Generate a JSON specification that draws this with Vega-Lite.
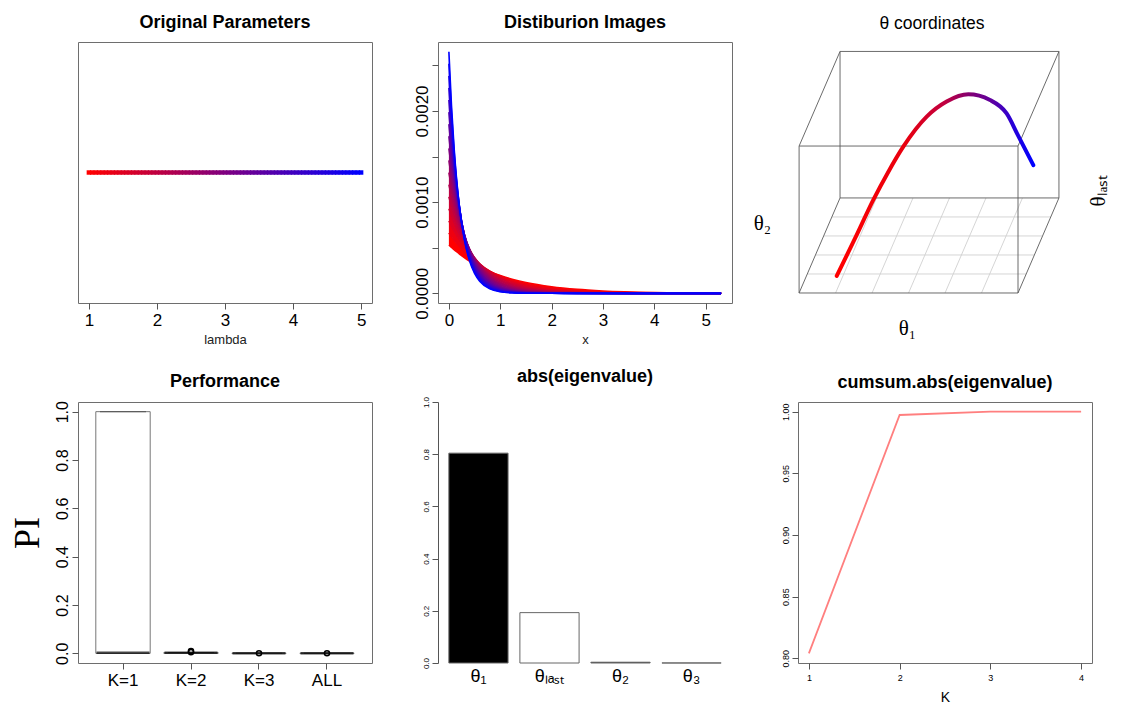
{
"$schema": "https://vega.github.io/schema/vega-lite/v6.json",
"background": "white",
"padding": {"left": 8, "top": 13, "right": 0, "bottom": 0},
"config": {
  "font": "Liberation Sans",
  "view": {"stroke": "#6e6e6e", "strokeWidth": 1},
  "axis": {"grid": false, "domain": false, "tickColor": "#555", "tickSize": 6, "labelColor": "#000", "labelFontSize": 17, "labelPadding": 3, "titleFontWeight": "normal", "titleFontSize": 13, "titleColor": "#222", "labelFlush": false, "labelOverlap": false},
  "title": {"fontSize": 18, "fontWeight": "bold", "offset": 10, "color": "#000"}
},
"columns": 3,
"spacing": {"row": 99, "column": 66},
"bounds": "flush",
"concat": [
  {
   "width": 294, "height": 261,
   "title": "Original Parameters",
   "data": {"values": [
    {"lambda":1},{"lambda":1.05},{"lambda":1.1},{"lambda":1.15},{"lambda":1.2},{"lambda":1.25},{"lambda":1.3},{"lambda":1.35},{"lambda":1.4},{"lambda":1.45},
    {"lambda":1.5},{"lambda":1.55},{"lambda":1.6},{"lambda":1.65},{"lambda":1.7},{"lambda":1.75},{"lambda":1.8},{"lambda":1.85},{"lambda":1.9},{"lambda":1.95},
    {"lambda":2},{"lambda":2.05},{"lambda":2.1},{"lambda":2.15},{"lambda":2.2},{"lambda":2.25},{"lambda":2.3},{"lambda":2.35},{"lambda":2.4},{"lambda":2.45},
    {"lambda":2.5},{"lambda":2.55},{"lambda":2.6},{"lambda":2.65},{"lambda":2.7},{"lambda":2.75},{"lambda":2.8},{"lambda":2.85},{"lambda":2.9},{"lambda":2.95},
    {"lambda":3},{"lambda":3.05},{"lambda":3.1},{"lambda":3.15},{"lambda":3.2},{"lambda":3.25},{"lambda":3.3},{"lambda":3.35},{"lambda":3.4},{"lambda":3.45},
    {"lambda":3.5},{"lambda":3.55},{"lambda":3.6},{"lambda":3.65},{"lambda":3.7},{"lambda":3.75},{"lambda":3.8},{"lambda":3.85},{"lambda":3.9},{"lambda":3.95},
    {"lambda":4},{"lambda":4.05},{"lambda":4.1},{"lambda":4.15},{"lambda":4.2},{"lambda":4.25},{"lambda":4.3},{"lambda":4.35},{"lambda":4.4},{"lambda":4.45},
    {"lambda":4.5},{"lambda":4.55},{"lambda":4.6},{"lambda":4.65},{"lambda":4.7},{"lambda":4.75},{"lambda":4.8},{"lambda":4.85},{"lambda":4.9},{"lambda":4.95},{"lambda":5}
   ]},
   "mark": {"type": "point", "shape": "square", "filled": true, "size": 20, "opacity": 1},
   "encoding": {
    "x": {"field": "lambda", "type": "quantitative", "scale": {"domain": [0.84, 5.16], "nice": false, "zero": false},
          "axis": {"values": [1,2,3,4,5], "format": "d", "labelAngle": 0, "title": "lambda", "titlePadding": 5}},
    "y": {"datum": 0, "type": "quantitative", "scale": {"domain": [-1, 1]}, "axis": null},
    "color": {"field": "lambda", "type": "quantitative", "scale": {"domain": [1, 5], "range": ["#ff0000", "#0000ff"], "interpolate": "rgb"}, "legend": null}
   }
  },
  {
   "width": 294, "height": 261,
   "title": "Distiburion Images",
   "data": {"values": [
{"l":1,"x":0,"d":0.000530},{"l":1,"x":0.05,"d":0.000504},{"l":1,"x":0.1,"d":0.000480},{"l":1,"x":0.15,"d":0.000456},{"l":1,"x":0.2,"d":0.000434},{"l":1,"x":0.3,"d":0.000393},{"l":1,"x":0.4,"d":0.000355},{"l":1,"x":0.5,"d":0.000321},{"l":1,"x":0.6,"d":0.000291},{"l":1,"x":0.8,"d":0.000238},{"l":1,"x":1,"d":0.000195},{"l":1,"x":1.25,"d":0.000152},{"l":1,"x":1.5,"d":0.000118},{"l":1,"x":2,"d":0.0000717},{"l":1,"x":2.5,"d":0.0000435},{"l":1,"x":3,"d":0.0000264},{"l":1,"x":4,"d":0.0000097},{"l":1,"x":5.3,"d":0.0000027},
{"l":1.25,"x":0,"d":0.0006625},{"l":1.25,"x":0.05,"d":0.000622},{"l":1.25,"x":0.1,"d":0.000585},{"l":1.25,"x":0.15,"d":0.000549},{"l":1.25,"x":0.2,"d":0.000516},{"l":1.25,"x":0.3,"d":0.000455},{"l":1.25,"x":0.4,"d":0.000402},{"l":1.25,"x":0.5,"d":0.000355},{"l":1.25,"x":0.6,"d":0.000313},{"l":1.25,"x":0.8,"d":0.000244},{"l":1.25,"x":1,"d":0.000190},{"l":1.25,"x":1.25,"d":0.000139},{"l":1.25,"x":1.5,"d":0.000102},{"l":1.25,"x":2,"d":0.0000544},{"l":1.25,"x":2.5,"d":0.0000291},{"l":1.25,"x":3,"d":0.0000156},{"l":1.25,"x":4,"d":0.0000045},{"l":1.25,"x":5.3,"d":0.0000009},
{"l":1.5,"x":0,"d":0.000795},{"l":1.5,"x":0.05,"d":0.000738},{"l":1.5,"x":0.1,"d":0.000684},{"l":1.5,"x":0.15,"d":0.000635},{"l":1.5,"x":0.2,"d":0.000589},{"l":1.5,"x":0.3,"d":0.000507},{"l":1.5,"x":0.4,"d":0.000436},{"l":1.5,"x":0.5,"d":0.000376},{"l":1.5,"x":0.6,"d":0.000323},{"l":1.5,"x":0.8,"d":0.000239},{"l":1.5,"x":1,"d":0.000177},{"l":1.5,"x":1.25,"d":0.000122},{"l":1.5,"x":1.5,"d":0.0000838},{"l":1.5,"x":2,"d":0.0000396},{"l":1.5,"x":2.5,"d":0.0000187},{"l":1.5,"x":3,"d":0.0000088},{"l":1.5,"x":4,"d":0.0000020},{"l":1.5,"x":5.3,"d":0.0000003},
{"l":1.75,"x":0,"d":0.0009275},{"l":1.75,"x":0.05,"d":0.000850},{"l":1.75,"x":0.1,"d":0.000779},{"l":1.75,"x":0.15,"d":0.000713},{"l":1.75,"x":0.2,"d":0.000654},{"l":1.75,"x":0.3,"d":0.000549},{"l":1.75,"x":0.4,"d":0.000461},{"l":1.75,"x":0.5,"d":0.000387},{"l":1.75,"x":0.6,"d":0.000325},{"l":1.75,"x":0.8,"d":0.000229},{"l":1.75,"x":1,"d":0.000161},{"l":1.75,"x":1.25,"d":0.000104},{"l":1.75,"x":1.5,"d":0.0000672},{"l":1.75,"x":2,"d":0.0000280},{"l":1.75,"x":2.5,"d":0.0000117},{"l":1.75,"x":3,"d":0.0000049},{"l":1.75,"x":4,"d":0.0000008},{"l":1.75,"x":5.3,"d":0.0000001},
{"l":2,"x":0,"d":0.00106},{"l":2,"x":0.05,"d":0.000959},{"l":2,"x":0.1,"d":0.000868},{"l":2,"x":0.15,"d":0.000785},{"l":2,"x":0.2,"d":0.000711},{"l":2,"x":0.3,"d":0.000582},{"l":2,"x":0.4,"d":0.000476},{"l":2,"x":0.5,"d":0.000390},{"l":2,"x":0.6,"d":0.000319},{"l":2,"x":0.8,"d":0.000214},{"l":2,"x":1,"d":0.000143},{"l":2,"x":1.25,"d":0.0000870},{"l":2,"x":1.5,"d":0.0000528},{"l":2,"x":2,"d":0.0000194},{"l":2,"x":2.5,"d":0.0000071},{"l":2,"x":3,"d":0.0000026},{"l":2,"x":4,"d":0.0000004},{"l":2,"x":5.3,"d":0},
{"l":2.25,"x":0,"d":0.0011925},{"l":2.25,"x":0.05,"d":0.001066},{"l":2.25,"x":0.1,"d":0.000952},{"l":2.25,"x":0.15,"d":0.000851},{"l":2.25,"x":0.2,"d":0.000760},{"l":2.25,"x":0.3,"d":0.000607},{"l":2.25,"x":0.4,"d":0.000485},{"l":2.25,"x":0.5,"d":0.000387},{"l":2.25,"x":0.6,"d":0.000309},{"l":2.25,"x":0.8,"d":0.000197},{"l":2.25,"x":1,"d":0.000126},{"l":2.25,"x":1.25,"d":0.0000717},{"l":2.25,"x":1.5,"d":0.0000408},{"l":2.25,"x":2,"d":0.0000132},{"l":2.25,"x":2.5,"d":0.0000043},{"l":2.25,"x":3,"d":0.0000014},{"l":2.25,"x":4,"d":0.0000001},{"l":2.25,"x":5.3,"d":0},
{"l":2.5,"x":0,"d":0.001325},{"l":2.5,"x":0.05,"d":0.001169},{"l":2.5,"x":0.1,"d":0.001032},{"l":2.5,"x":0.15,"d":0.000911},{"l":2.5,"x":0.2,"d":0.000804},{"l":2.5,"x":0.3,"d":0.000626},{"l":2.5,"x":0.4,"d":0.000487},{"l":2.5,"x":0.5,"d":0.000380},{"l":2.5,"x":0.6,"d":0.000296},{"l":2.5,"x":0.8,"d":0.000179},{"l":2.5,"x":1,"d":0.000109},{"l":2.5,"x":1.25,"d":0.0000582},{"l":2.5,"x":1.5,"d":0.0000311},{"l":2.5,"x":2,"d":0.0000089},{"l":2.5,"x":2.5,"d":0.0000026},{"l":2.5,"x":3,"d":0.0000007},{"l":2.5,"x":4,"d":0},{"l":2.5,"x":5.3,"d":0},
{"l":2.75,"x":0,"d":0.0014575},{"l":2.75,"x":0.05,"d":0.001270},{"l":2.75,"x":0.1,"d":0.001107},{"l":2.75,"x":0.15,"d":0.000965},{"l":2.75,"x":0.2,"d":0.000841},{"l":2.75,"x":0.3,"d":0.000639},{"l":2.75,"x":0.4,"d":0.000485},{"l":2.75,"x":0.5,"d":0.000368},{"l":2.75,"x":0.6,"d":0.000280},{"l":2.75,"x":0.8,"d":0.000161},{"l":2.75,"x":1,"d":0.0000931},{"l":2.75,"x":1.25,"d":0.0000468},{"l":2.75,"x":1.5,"d":0.0000236},{"l":2.75,"x":2,"d":0.0000060},{"l":2.75,"x":2.5,"d":0.0000015},{"l":2.75,"x":3,"d":0.0000004},{"l":2.75,"x":4,"d":0},{"l":2.75,"x":5.3,"d":0},
{"l":3,"x":0,"d":0.00159},{"l":3,"x":0.05,"d":0.001369},{"l":3,"x":0.1,"d":0.001178},{"l":3,"x":0.15,"d":0.001014},{"l":3,"x":0.2,"d":0.000873},{"l":3,"x":0.3,"d":0.000646},{"l":3,"x":0.4,"d":0.000479},{"l":3,"x":0.5,"d":0.000355},{"l":3,"x":0.6,"d":0.000263},{"l":3,"x":0.8,"d":0.000144},{"l":3,"x":1,"d":0.0000792},{"l":3,"x":1.25,"d":0.0000374},{"l":3,"x":1.5,"d":0.0000176},{"l":3,"x":2,"d":0.0000039},{"l":3,"x":2.5,"d":0.0000009},{"l":3,"x":3,"d":0.0000002},{"l":3,"x":4,"d":0},{"l":3,"x":5.3,"d":0},
{"l":3.25,"x":0,"d":0.0017225},{"l":3.25,"x":0.05,"d":0.001464},{"l":3.25,"x":0.1,"d":0.001245},{"l":3.25,"x":0.15,"d":0.001058},{"l":3.25,"x":0.2,"d":0.000899},{"l":3.25,"x":0.3,"d":0.000650},{"l":3.25,"x":0.4,"d":0.000469},{"l":3.25,"x":0.5,"d":0.000339},{"l":3.25,"x":0.6,"d":0.000245},{"l":3.25,"x":0.8,"d":0.000128},{"l":3.25,"x":1,"d":0.0000668},{"l":3.25,"x":1.25,"d":0.0000296},{"l":3.25,"x":1.5,"d":0.0000131},{"l":3.25,"x":2,"d":0.0000026},{"l":3.25,"x":2.5,"d":0.0000005},{"l":3.25,"x":3,"d":0.0000001},{"l":3.25,"x":4,"d":0},{"l":3.25,"x":5.3,"d":0},
{"l":3.5,"x":0,"d":0.001855},{"l":3.5,"x":0.05,"d":0.001557},{"l":3.5,"x":0.1,"d":0.001307},{"l":3.5,"x":0.15,"d":0.001097},{"l":3.5,"x":0.2,"d":0.000921},{"l":3.5,"x":0.3,"d":0.000649},{"l":3.5,"x":0.4,"d":0.000457},{"l":3.5,"x":0.5,"d":0.000322},{"l":3.5,"x":0.6,"d":0.000227},{"l":3.5,"x":0.8,"d":0.000113},{"l":3.5,"x":1,"d":0.0000560},{"l":3.5,"x":1.25,"d":0.0000234},{"l":3.5,"x":1.5,"d":0.0000097},{"l":3.5,"x":2,"d":0.0000017},{"l":3.5,"x":2.5,"d":0.0000003},{"l":3.5,"x":3,"d":0},{"l":3.5,"x":4,"d":0},{"l":3.5,"x":5.3,"d":0},
{"l":3.75,"x":0,"d":0.0019875},{"l":3.75,"x":0.05,"d":0.001648},{"l":3.75,"x":0.1,"d":0.001366},{"l":3.75,"x":0.15,"d":0.001132},{"l":3.75,"x":0.2,"d":0.000939},{"l":3.75,"x":0.3,"d":0.000645},{"l":3.75,"x":0.4,"d":0.000443},{"l":3.75,"x":0.5,"d":0.000305},{"l":3.75,"x":0.6,"d":0.000209},{"l":3.75,"x":0.8,"d":0.0000990},{"l":3.75,"x":1,"d":0.0000467},{"l":3.75,"x":1.25,"d":0.0000183},{"l":3.75,"x":1.5,"d":0.0000072},{"l":3.75,"x":2,"d":0.0000011},{"l":3.75,"x":2.5,"d":0.0000002},{"l":3.75,"x":3,"d":0},{"l":3.75,"x":4,"d":0},{"l":3.75,"x":5.3,"d":0},
{"l":4,"x":0,"d":0.00212},{"l":4,"x":0.05,"d":0.001736},{"l":4,"x":0.1,"d":0.001421},{"l":4,"x":0.15,"d":0.001163},{"l":4,"x":0.2,"d":0.000953},{"l":4,"x":0.3,"d":0.000639},{"l":4,"x":0.4,"d":0.000428},{"l":4,"x":0.5,"d":0.000287},{"l":4,"x":0.6,"d":0.000192},{"l":4,"x":0.8,"d":0.0000865},{"l":4,"x":1,"d":0.0000388},{"l":4,"x":1.25,"d":0.0000143},{"l":4,"x":1.5,"d":0.0000053},{"l":4,"x":2,"d":0.0000007},{"l":4,"x":2.5,"d":0},{"l":4,"x":3,"d":0},{"l":4,"x":4,"d":0},{"l":4,"x":5.3,"d":0},
{"l":4.25,"x":0,"d":0.0022525},{"l":4.25,"x":0.05,"d":0.001821},{"l":4.25,"x":0.1,"d":0.001473},{"l":4.25,"x":0.15,"d":0.001191},{"l":4.25,"x":0.2,"d":0.000963},{"l":4.25,"x":0.3,"d":0.000629},{"l":4.25,"x":0.4,"d":0.000412},{"l":4.25,"x":0.5,"d":0.000269},{"l":4.25,"x":0.6,"d":0.000176},{"l":4.25,"x":0.8,"d":0.0000752},{"l":4.25,"x":1,"d":0.0000322},{"l":4.25,"x":1.25,"d":0.0000111},{"l":4.25,"x":1.5,"d":0.0000038},{"l":4.25,"x":2,"d":0.0000005},{"l":4.25,"x":2.5,"d":0},{"l":4.25,"x":3,"d":0},{"l":4.25,"x":4,"d":0},{"l":4.25,"x":5.3,"d":0},
{"l":4.5,"x":0,"d":0.002385},{"l":4.5,"x":0.05,"d":0.001904},{"l":4.5,"x":0.1,"d":0.001521},{"l":4.5,"x":0.15,"d":0.001214},{"l":4.5,"x":0.2,"d":0.000970},{"l":4.5,"x":0.3,"d":0.000618},{"l":4.5,"x":0.4,"d":0.000394},{"l":4.5,"x":0.5,"d":0.000251},{"l":4.5,"x":0.6,"d":0.000160},{"l":4.5,"x":0.8,"d":0.0000651},{"l":4.5,"x":1,"d":0.0000265},{"l":4.5,"x":1.25,"d":0.0000086},{"l":4.5,"x":1.5,"d":0.0000028},{"l":4.5,"x":2,"d":0.0000003},{"l":4.5,"x":2.5,"d":0},{"l":4.5,"x":3,"d":0},{"l":4.5,"x":4,"d":0},{"l":4.5,"x":5.3,"d":0},
{"l":4.75,"x":0,"d":0.0025175},{"l":4.75,"x":0.05,"d":0.001985},{"l":4.75,"x":0.1,"d":0.001566},{"l":4.75,"x":0.15,"d":0.001235},{"l":4.75,"x":0.2,"d":0.000974},{"l":4.75,"x":0.3,"d":0.000605},{"l":4.75,"x":0.4,"d":0.000377},{"l":4.75,"x":0.5,"d":0.000234},{"l":4.75,"x":0.6,"d":0.000146},{"l":4.75,"x":0.8,"d":0.0000564},{"l":4.75,"x":1,"d":0.0000218},{"l":4.75,"x":1.25,"d":0.0000066},{"l":4.75,"x":1.5,"d":0.0000020},{"l":4.75,"x":2,"d":0.0000002},{"l":4.75,"x":2.5,"d":0},{"l":4.75,"x":3,"d":0},{"l":4.75,"x":4,"d":0},{"l":4.75,"x":5.3,"d":0},
{"l":5,"x":0,"d":0.00265},{"l":5,"x":0.05,"d":0.002064},{"l":5,"x":0.1,"d":0.001607},{"l":5,"x":0.15,"d":0.001252},{"l":5,"x":0.2,"d":0.000975},{"l":5,"x":0.3,"d":0.000591},{"l":5,"x":0.4,"d":0.000359},{"l":5,"x":0.5,"d":0.000218},{"l":5,"x":0.6,"d":0.000132},{"l":5,"x":0.8,"d":0.0000485},{"l":5,"x":1,"d":0.0000179},{"l":5,"x":1.25,"d":0.0000051},{"l":5,"x":1.5,"d":0.0000015},{"l":5,"x":2,"d":0.0000001},{"l":5,"x":2.5,"d":0},{"l":5,"x":3,"d":0},{"l":5,"x":4,"d":0},{"l":5,"x":5.3,"d":0}
   ]},
   "encoding": {
    "x": {"field": "x", "type": "quantitative", "scale": {"domain": [-0.212, 5.512], "nice": false, "zero": false},
          "axis": {"values": [0,1,2,3,4,5], "format": "d", "labelAngle": 0, "title": "x", "titlePadding": 5}},
    "y": {"field": "d", "type": "quantitative", "scale": {"domain": [-0.000106, 0.002756], "nice": false, "zero": false},
          "axis": {"values": [0, 0.0005, 0.001, 0.0015, 0.002, 0.0025], "labelExpr": "(round(datum.value*1000*2) % 2 == 0) ? format(datum.value, '.4f') : ''", "labelAngle": -90, "labelAlign": "center", "labelBaseline": "bottom", "labelPadding": 1, "title": null}},
    "color": {"field": "l", "type": "quantitative", "scale": {"domain": [1, 5], "range": ["#ff0000", "#0000ff"], "interpolate": "rgb"}, "legend": null}
   },
   "layer": [
    {
     "transform": [
      {"window": [{"op": "lead", "field": "d", "as": "d2"}], "groupby": ["x"], "sort": [{"field": "l", "order": "ascending"}]},
      {"filter": "datum.d2 != null"}
     ],
     "mark": {"type": "area", "interpolate": "monotone", "opacity": 1},
     "encoding": {"y2": {"field": "d2"}}
    },
    {
     "mark": {"type": "line", "strokeWidth": 1.6, "interpolate": "monotone"}
    }
   ]
  },
  {
   "width": 294, "height": 261,
   "title": {"text": "θ coordinates", "fontWeight": "normal", "fontSize": 17.5, "dx": -13},
   "view": {"stroke": null},
   "layer": [
    {
     "data": {"values": [
      {"kind":"grid","u1":0.1667,"v1":0,"u2":0.3537,"v2":0.434},
      {"kind":"grid","u1":0.3333,"v1":0,"u2":0.5203,"v2":0.434},
      {"kind":"grid","u1":0.5,"v1":0,"u2":0.687,"v2":0.434},
      {"kind":"grid","u1":0.6667,"v1":0,"u2":0.8537,"v2":0.434},
      {"kind":"grid","u1":0.8333,"v1":0,"u2":1.0203,"v2":0.434},
      {"kind":"grid","u1":0.0374,"v1":0.0868,"u2":1.0374,"v2":0.0868},
      {"kind":"grid","u1":0.0748,"v1":0.1736,"u2":1.0748,"v2":0.1736},
      {"kind":"grid","u1":0.1122,"v1":0.2604,"u2":1.1122,"v2":0.2604},
      {"kind":"grid","u1":0.1496,"v1":0.3472,"u2":1.1496,"v2":0.3472},
      {"kind":"box","u1":0,"v1":0,"u2":1,"v2":0},
      {"kind":"box","u1":0,"v1":0.671,"u2":1,"v2":0.671},
      {"kind":"box","u1":0,"v1":0,"u2":0,"v2":0.671},
      {"kind":"box","u1":1,"v1":0,"u2":1,"v2":0.671},
      {"kind":"box","u1":0.187,"v1":0.434,"u2":1.187,"v2":0.434},
      {"kind":"box","u1":0.187,"v1":1.103,"u2":1.187,"v2":1.103},
      {"kind":"box","u1":0.187,"v1":0.434,"u2":0.187,"v2":1.103},
      {"kind":"box","u1":1.187,"v1":0.434,"u2":1.187,"v2":1.103},
      {"kind":"box","u1":0,"v1":0,"u2":0.187,"v2":0.434},
      {"kind":"box","u1":1,"v1":0,"u2":1.187,"v2":0.434},
      {"kind":"box","u1":0,"v1":0.671,"u2":0.187,"v2":1.103},
      {"kind":"box","u1":1,"v1":0.671,"u2":1.187,"v2":1.103}
     ]},
     "mark": {"type": "rule", "strokeWidth": 0.9},
     "encoding": {
      "x": {"field": "u1", "type": "quantitative", "scale": {"domain": [-0.005, 1.338], "nice": false, "zero": false},
            "axis": {"title": "θ₁", "labels": false, "ticks": false, "domain": false, "titleFont": "Liberation Serif", "titleFontSize": 21, "titleColor": "#000", "titleX": 109, "titleY": 25, "titleBaseline": "middle", "titleAlign": "center"}},
      "y": {"field": "v1", "type": "quantitative", "scale": {"domain": [-0.0457, 1.1461], "nice": false, "zero": false},
            "axis": {"orient": "left", "title": "θ₂", "labels": false, "ticks": false, "domain": false, "titleFont": "Liberation Serif", "titleFontSize": 21, "titleColor": "#000", "titleAngle": 0, "titleX": -36, "titleY": 181, "titleBaseline": "middle", "titleAlign": "center"}},
      "x2": {"field": "u2"},
      "y2": {"field": "v2"},
      "color": {"field": "kind", "type": "nominal", "scale": {"domain": ["box", "grid"], "range": ["#5a5a5a", "#d0d0d0"]}, "legend": null}
     }
    },
    {
     "data": {"values": [
      {"u":0.172,"v":0.078},{"u":0.256,"v":0.250},{"u":0.339,"v":0.425},{"u":0.408,"v":0.554},{"u":0.476,"v":0.668},{"u":0.583,"v":0.805},
      {"u":0.674,"v":0.874},{"u":0.773,"v":0.907},{"u":0.872,"v":0.881},{"u":0.948,"v":0.820},{"u":1.0,"v":0.72},{"u":1.070,"v":0.584}
     ]},
     "mark": {"type": "line", "strokeWidth": 4, "interpolate": "monotone", "strokeCap": "round",
              "stroke": {"gradient": "linear", "x1": 0, "y1": 0, "x2": 1, "y2": 0,
                         "stops": [{"offset": 0, "color": "#ff0000"}, {"offset": 0.35, "color": "#e8000f"}, {"offset": 0.55, "color": "#c00040"}, {"offset": 0.67, "color": "#850070"}, {"offset": 0.8, "color": "#5a00a5"}, {"offset": 0.9, "color": "#2500da"}, {"offset": 1, "color": "#0000ff"}]}},
     "encoding": {
      "x": {"field": "u", "type": "quantitative"},
      "y": {"field": "v", "type": "quantitative",
            "axis": {"orient": "right", "title": "θₗₐₛₜ", "labels": false, "ticks": false, "domain": false, "titleFont": "Liberation Serif", "titleFontSize": 21, "titleColor": "#000", "titleAngle": -90, "titleX": 6, "titleY": 148, "titleBaseline": "middle", "titleAlign": "center"}}
     }
    }
   ],
   "resolve": {"axis": {"y": "independent"}}
  },
  {
   "width": 294, "height": 261,
   "title": "Performance",
   "encoding": {
    "x": {"field": "k", "type": "nominal", "sort": null, "scale": {"paddingInner": 0.2, "paddingOuter": 0.2618},
          "axis": {"title": null, "labelAngle": 0, "labelPadding": 3}}
   },
   "layer": [
    {
     "data": {"values": [
      {"k":"K=1","q1":0,"q3":1,"med":0.002,"hi":1},
      {"k":"K=2","q1":0,"q3":0.003,"med":0.002,"hi":0.003},
      {"k":"K=3","q1":0,"q3":0,"med":0,"hi":0},
      {"k":"ALL","q1":0,"q3":0,"med":0,"hi":0}
     ]},
     "layer": [
      {
       "mark": {"type": "bar", "fill": "white", "stroke": "#777", "strokeWidth": 1},
       "encoding": {
        "y": {"field": "q1", "type": "quantitative", "scale": {"domain": [-0.04, 1.04], "nice": false, "zero": false},
              "axis": {"values": [0,0.2,0.4,0.6,0.8,1], "format": ".1f", "labelAngle": -90, "labelAlign": "center", "labelBaseline": "bottom", "labelPadding": 2, "labelFontSize": 16,
                       "title": "PI", "titleFont": "Liberation Serif", "titleFontSize": 36, "titleColor": "#000", "titlePadding": 8}},
        "y2": {"field": "q3"}
       }
      },
      {
       "mark": {"type": "tick", "orient": "horizontal", "thickness": 1, "size": 46, "color": "#333"},
       "encoding": {"y": {"field": "hi", "type": "quantitative"}}
      },
      {
       "mark": {"type": "tick", "orient": "horizontal", "thickness": 2.5, "size": 53, "color": "#000"},
       "encoding": {"y": {"field": "med", "type": "quantitative"}}
      }
     ]
    },
    {
     "data": {"values": [
      {"k":"K=2","pi":0.009},{"k":"K=2","pi":0.005},{"k":"K=3","pi":0.0005},{"k":"ALL","pi":0.0005}
     ]},
     "mark": {"type": "point", "shape": "circle", "filled": false, "color": "#000", "size": 26, "strokeWidth": 1.5, "opacity": 1},
     "encoding": {"y": {"field": "pi", "type": "quantitative"}}
    }
   ]
  },
  {
   "width": 294, "height": 261,
   "title": "abs(eigenvalue)",
   "view": {"stroke": null},
   "data": {"values": [
    {"theta":"θ₁","value":0.804},{"theta":"θₗₐₛₜ","value":0.193},{"theta":"θ₂","value":0.003},{"theta":"θ₃","value":0.0002}
   ]},
   "mark": {"type": "bar", "stroke": "#666", "strokeWidth": 1},
   "encoding": {
    "x": {"field": "theta", "type": "nominal", "sort": null, "scale": {"paddingInner": 0.1667, "paddingOuter": 0.153},
          "axis": {"title": null, "labelAngle": 0, "ticks": false, "labelPadding": 4, "labelFontSize": 18}},
    "y": {"field": "value", "type": "quantitative", "scale": {"domain": [0, 1], "nice": false, "zero": false},
          "axis": {"values": [0,0.2,0.4,0.6,0.8,1], "format": ".1f", "labelAngle": -90, "labelAlign": "center", "labelBaseline": "bottom", "labelFontSize": 8, "labelPadding": 2, "domain": true, "domainColor": "#555", "title": null}},
    "fill": {"condition": {"test": "datum.theta === 'θ₁' || datum.theta === 'θ₂'", "value": "#000000"}, "value": "#ffffff"}
   }
  },
  {
   "width": 294, "height": 261,
   "title": "cumsum.abs(eigenvalue)",
   "data": {"values": [
    {"K":1,"cum":0.804},{"K":2,"cum":0.9973},{"K":3,"cum":1.0},{"K":4,"cum":1.0}
   ]},
   "mark": {"type": "line", "color": "#ff7f7f", "strokeWidth": 1.8},
   "encoding": {
    "x": {"field": "K", "type": "quantitative", "scale": {"domain": [0.88, 4.12], "nice": false, "zero": false},
          "axis": {"values": [1,2,3,4], "format": "d", "labelAngle": 0, "labelFontSize": 9, "labelPadding": 4, "title": "K", "titleFontSize": 14, "titleColor": "#000", "titlePadding": 8}},
    "y": {"field": "cum", "type": "quantitative", "scale": {"domain": [0.79616, 1.00784], "nice": false, "zero": false},
          "axis": {"values": [0.8,0.85,0.9,0.95,1], "format": ".2f", "labelAngle": -90, "labelAlign": "center", "labelBaseline": "bottom", "labelFontSize": 9, "labelPadding": 2, "title": null}}
   }
  }
]
}
